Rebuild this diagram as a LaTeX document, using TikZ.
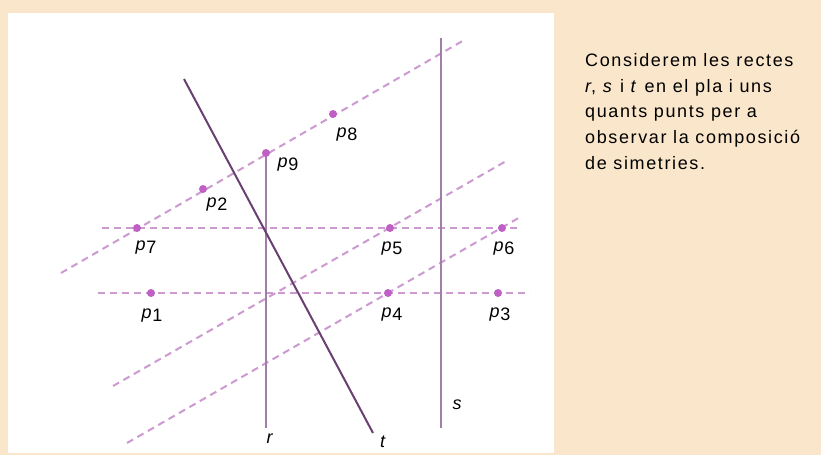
\documentclass[tikz,border=0pt]{standalone}
\usepackage{fontspec}
\setmainfont{Liberation Sans}
\definecolor{peach}{HTML}{FAE6CA}
\definecolor{tcol}{HTML}{6A3F72}
\definecolor{rcol}{HTML}{A07EA8}
\definecolor{dashcol}{HTML}{CC9AD0}
\definecolor{dotcol}{HTML}{C060C4}
\tikzset{
  guide/.style={draw=dashcol, line width=2pt, dash pattern=on 7pt off 5pt},
  mirror/.style={draw=rcol, line width=2.4pt},
  tline/.style={draw=tcol, line width=2pt},
  dot/.style={circle, fill=dotcol, inner sep=0pt, minimum size=8pt},
  plabel/.style={font=\fontsize{18}{18}\selectfont, inner sep=0pt},
  body/.style={font=\fontsize{18}{20}\selectfont\addfontfeature{LetterSpace=9}, anchor=base west, inner sep=0pt},
}
\newcommand\pl[1]{\textit{p}\kern0.8pt\raisebox{-3pt}{#1}}
\begin{document}
\begin{tikzpicture}[x=1pt,y=-1pt]
\useasboundingbox (0,0) rectangle (821,455);
\fill[peach] (0,0) rectangle (821,455);
\fill[white] (8,13) rectangle (554,453);
% guide lines
\coordinate (h1a) at (102,228); \coordinate (h1b) at (519,228);
\coordinate (h2a) at (98,293);  \coordinate (h2b) at (530,293);
\coordinate (d1a) at (61,273);  \coordinate (d1b) at (466,39);
\coordinate (d2a) at (113,386); \coordinate (d2b) at (508,160);
\coordinate (d3a) at (127,443); \coordinate (d3b) at (522,216);
\draw[guide] (h1a) -- (h1b);
\draw[guide] (h2a) -- (h2b);
\draw[guide] (d1a) -- (d1b);
\draw[guide] (d2a) -- (d2b);
\draw[guide] (d3a) -- (d3b);
% mirror lines
\coordinate (rtop) at (266,152); \coordinate (rbot) at (266,428);
\coordinate (stop) at (441,38);  \coordinate (sbot) at (441,428);
\coordinate (ttop) at (184,79);  \coordinate (tbot) at (373,433);
\draw[mirror] (rtop) -- (rbot);
\draw[mirror] (stop) -- (sbot);
\draw[tline] (ttop) -- (tbot);
% points
\node[dot] (p1) at (151,293) {};
\node[dot] (p2) at (203,189) {};
\node[dot] (p3) at (498,293) {};
\node[dot] (p4) at (388,293) {};
\node[dot] (p5) at (390,228) {};
\node[dot] (p6) at (502,228) {};
\node[dot] (p7) at (137,228) {};
\node[dot] (p8) at (333,114) {};
\node[dot] (p9) at (266,153) {};
% point labels
\node[plabel] (l1) at (152,316) {\pl{1}};
\node[plabel] (l2) at (217,205) {\pl{2}};
\node[plabel] (l3) at (500,315) {\pl{3}};
\node[plabel] (l4) at (392,315) {\pl{4}};
\node[plabel] (l5) at (392,249) {\pl{5}};
\node[plabel] (l6) at (504,249) {\pl{6}};
\node[plabel] (l7) at (146,248) {\pl{7}};
\node[plabel] (l8) at (347,135) {\pl{8}};
\node[plabel] (l9) at (288,165) {\pl{9}};
% line labels
\node[plabel] (lr) at (270,439) {\textit{r}};
\node[plabel] (lt) at (383,442) {\textit{t}};
\node[plabel] (ls) at (457,405) {\textit{s}};
% text
\node[body] (tx1) at (585,66) {Considerem les rectes};
\node[body] (tx2) at (585,92) {\textit{r}, \textit{s} i \textit{t} en el pla i uns};
\node[body] (tx3) at (585,117.5) {quants punts per a};
\node[body] (tx4) at (585,143) {observar la composició};
\node[body] (tx5) at (585,169) {de simetries.};
\end{tikzpicture}
\end{document}
